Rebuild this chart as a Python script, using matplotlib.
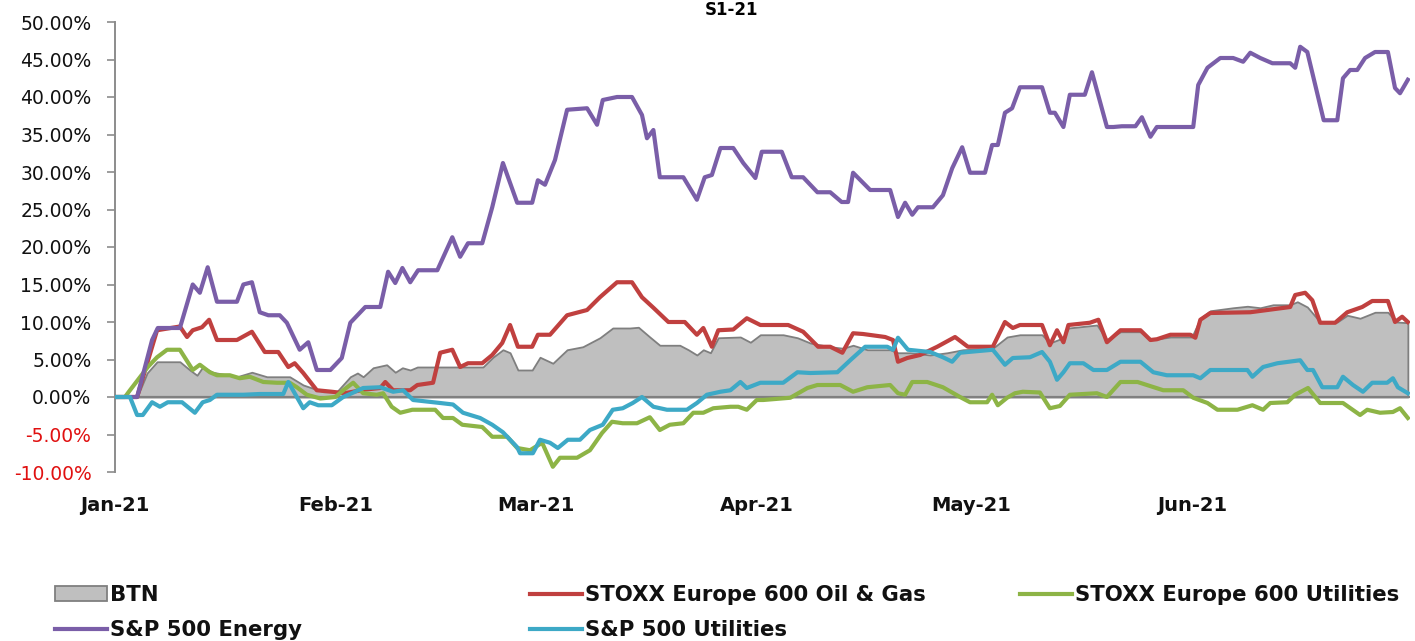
import matplotlib
matplotlib.use("Agg")
import matplotlib.pyplot as plt
from matplotlib.lines import Line2D
from matplotlib.patches import Patch
import numpy as np

# ---- data (days since 1 Jan 2021, cumulative return in %) ----
month_days = [0, 31, 59, 90, 120, 151]
month_labels = ["Jan-21", "Feb-21", "Mar-21", "Apr-21", "May-21", "Jun-21"]

btn_days = [0, 3.1, 4.5, 5.9, 9.1, 10.5, 11.5, 12.3, 13.7, 17.1, 19.2, 21.3, 24.5, 26.4, 29.2, 31.1,
            33.0, 34.0, 34.8, 36.2, 38.1, 39.3, 40.3, 41.4, 42.4, 47.4, 51.6, 53.0, 54.4, 55.4, 56.5,
            58.5, 59.6, 61.4, 63.4, 65.6, 68.0, 69.8, 72.2, 73.4, 75.0, 76.4, 79.2, 80.4, 81.6, 82.5,
            83.5, 84.6, 87.7, 89.1, 90.5, 93.7, 95.7, 97.5, 100.3, 102.1, 103.5, 105.5, 108.7, 109.8,
            111.5, 114.3, 116.7, 118.9, 123.1, 125.1, 126.9, 130.0, 131.1, 133.0, 133.7, 137.7, 139.1,
            141.0, 143.8, 145.2, 148.0, 151.0, 152.2, 153.6, 156.8, 158.8, 160.6, 162.4, 164.8, 165.8,
            167.2, 169.0, 171.4, 172.8, 174.6, 176.7, 178.5, 179.7, 181.3]
btn_vals = [0, 0, 3.2, 4.7, 4.7, 3.6, 2.9, 4.0, 3.3, 2.7, 3.3, 2.7, 2.7, 1.6, 0.7, 0.7,
            2.7, 3.2, 2.7, 3.9, 4.3, 3.3, 3.9, 3.6, 4.0, 4.0, 4.0, 5.3, 6.3, 5.9, 3.6,
            3.6, 5.3, 4.5, 6.3, 6.7, 7.9, 9.2, 9.2, 9.3, 8.0, 6.9, 6.9, 6.3, 5.6, 6.3,
            5.9, 7.9, 8.0, 7.3, 8.3, 8.3, 7.9, 7.2, 6.7, 6.5, 6.9, 6.3, 6.3, 5.9,
            5.9, 5.6, 5.9, 6.3, 6.5, 8.0, 8.3, 8.3, 7.2, 7.9, 9.2, 9.6, 7.6,
            8.7, 8.7, 7.6, 8.0, 8.0, 10.5, 11.5, 11.9, 12.1, 11.9, 12.3, 12.3, 12.7,
            12.0, 10.0, 10.0, 10.9, 10.5, 11.3, 11.3, 10.0, 9.9]

oil_days = [0, 3.1, 5.9, 9.1, 10.1, 10.9, 12.2, 13.2, 14.3, 17.1, 19.2, 21.0, 22.9, 24.3, 25.2, 26.4,
            28.3, 30.4, 32.2, 35.1, 37.2, 37.9, 39.0, 41.4, 42.4, 44.6, 45.6, 47.3, 48.4, 49.5, 51.5,
            52.9, 54.3, 55.4, 56.5, 58.5, 59.3, 61.0, 63.4, 66.2, 68.0, 70.4, 72.5, 73.9, 75.5, 77.6,
            79.9, 81.6, 82.5, 83.7, 84.6, 86.7, 88.6, 90.5, 94.4, 96.5, 98.6, 100.3, 102.0, 103.5,
            104.9, 108.0, 109.1, 109.8, 111.1, 112.9, 115.3, 117.8, 119.6, 123.1, 124.8, 125.9, 126.9,
            130.0, 131.1, 132.1, 133.0, 133.7, 136.7, 137.9, 139.1, 141.0, 143.8, 145.2, 146.1, 148.0,
            150.8, 151.5, 152.2, 153.6, 159.2, 161.6, 164.8, 165.5, 166.9, 167.9, 169.0, 171.1, 172.8,
            174.9, 176.3, 178.5, 179.5, 180.5, 181.3]
oil_vals = [0, 0, 8.9, 9.4, 8.0, 8.9, 9.3, 10.3, 7.6, 7.6, 8.7, 6.0, 6.0, 4.0, 4.5, 3.2,
            0.9, 0.7, 0.5, 1.0, 1.2, 2.0, 0.9, 0.9, 1.6, 1.9, 5.9, 6.3, 4.0, 4.5, 4.5,
            5.6, 7.2, 9.6, 6.7, 6.7, 8.3, 8.3, 10.9, 11.6, 13.3, 15.3, 15.3, 13.3, 11.9, 10.0,
            10.0, 8.3, 9.2, 6.7, 8.9, 9.0, 10.5, 9.6, 9.6, 8.7, 6.7, 6.7, 5.9, 8.5,
            8.4, 8.0, 7.6, 4.7, 5.2, 5.6, 6.7, 8.0, 6.7, 6.7, 10.0, 9.2, 9.6,
            9.6, 6.9, 8.9, 7.3, 9.6, 9.9, 10.3, 7.3, 8.9, 8.9, 7.6, 7.7, 8.3,
            8.3, 7.9, 10.3, 11.2, 11.3, 11.6, 12.0, 13.6, 13.9, 12.9, 9.9, 9.9, 11.3,
            12.0, 12.8, 12.8, 10.0, 10.7, 10.0]

eu_util_days = [0, 1.4, 2.1, 4.6, 5.9, 7.3, 9.1, 10.9, 11.9, 13.3, 14.3, 16.1, 17.5, 18.9, 20.8, 22.7,
                24.5, 25.5, 26.9, 28.8, 30.9, 32.0, 33.4, 34.8, 36.7, 37.6, 38.8, 40.0, 41.7, 44.9, 46.0,
                47.4, 48.7, 51.5, 52.9, 55.0, 56.4, 58.2, 59.9, 61.4, 62.4, 64.8, 66.6, 68.3, 69.7, 71.2,
                73.2, 75.0, 76.4, 77.8, 79.7, 81.1, 82.5, 83.9, 86.3, 87.4, 88.6, 90.0, 90.9, 94.7, 97.1,
                98.5, 101.7, 103.5, 105.5, 108.7, 109.8, 110.8, 111.8, 113.9, 116.1, 118.5, 119.9, 122.3,
                123.0, 123.8, 125.1, 126.2, 127.3, 129.7, 131.1, 132.5, 133.9, 137.7, 139.1, 141.0, 143.4,
                144.7, 147.0, 149.8, 151.2, 153.2, 154.6, 157.4, 159.5, 161.0, 162.0, 164.4, 165.5, 167.3,
                169.0, 172.2, 174.6, 175.6, 177.4, 179.2, 180.2, 181.3]
eu_util_vals = [0, 0, 0.9, 4.0, 5.3, 6.3, 6.3, 3.6, 4.3, 3.3, 2.9, 2.9, 2.5, 2.7, 2.0, 1.9,
                1.9, 1.3, 0.3, -0.2, 0.0, 0.9, 1.9, 0.5, 0.3, 0.5, -1.3, -2.1, -1.7, -1.7, -2.8,
                -2.8, -3.7, -4.0, -5.3, -5.3, -6.8, -7.1, -6.1, -9.3, -8.1, -8.1, -7.1, -4.8, -3.3, -3.5,
                -3.5, -2.7, -4.4, -3.7, -3.5, -2.1, -2.1, -1.5, -1.3, -1.3, -1.7, -0.4, -0.4, -0.1, 1.2,
                1.6, 1.6, 0.7, 1.3, 1.6, 0.5, 0.3, 2.0, 2.0, 1.3, 0.0, -0.7, -0.7,
                0.3, -1.1, -0.1, 0.5, 0.7, 0.6, -1.5, -1.2, 0.3, 0.5, 0.0, 2.0, 2.0,
                1.6, 0.9, 0.9, -0.1, -0.8, -1.7, -1.7, -1.1, -1.7, -0.8, -0.7, 0.3, 1.2,
                -0.8, -0.8, -2.4, -1.7, -2.1, -2.0, -1.5, -2.8]

energy_days = [0, 3.1, 5.2, 6.0, 9.1, 10.9, 11.9, 13.0, 14.3, 17.1, 18.0, 19.2, 20.3, 21.5, 23.1, 24.1,
               25.9, 27.1, 28.3, 30.2, 31.8, 33.0, 35.1, 37.2, 38.3, 39.3, 40.3, 41.4, 42.5, 45.2, 47.3,
               48.4, 49.5, 51.5, 52.9, 54.4, 56.4, 58.5, 59.3, 60.3, 61.7, 63.4, 66.2, 67.6, 68.4, 70.4,
               72.5, 73.9, 74.6, 75.5, 76.4, 79.7, 81.6, 82.7, 83.7, 84.9, 86.7, 88.1, 89.8, 90.7, 93.5,
               94.9, 96.5, 98.5, 100.3, 101.9, 102.8, 103.5, 105.9, 108.7, 109.8, 110.8, 111.8, 112.6,
               114.7, 116.1, 117.4, 118.8, 119.9, 122.0, 123.0, 123.8, 124.8, 125.8, 126.9, 130.0, 131.1,
               131.8, 133.0, 133.9, 136.0, 137.0, 139.1, 140.0, 141.2, 143.1, 144.0, 145.2, 146.1, 151.2,
               151.9, 153.2, 155.0, 156.8, 158.2, 159.2, 160.6, 162.3, 164.8, 165.5, 166.2, 167.2, 169.5,
               171.4, 172.2, 173.2, 174.2, 175.3, 176.7, 178.5, 179.5, 180.2, 181.3]
energy_vals = [0, 0, 7.6, 9.2, 9.2, 15.0, 13.9, 17.3, 12.7, 12.7, 15.0, 15.3, 11.3, 10.9, 10.9, 9.9,
               6.3, 7.3, 3.6, 3.6, 5.2, 9.9, 12.0, 12.0, 16.7, 15.2, 17.2, 15.3, 16.9, 16.9, 21.3,
               18.7, 20.5, 20.5, 25.3, 31.2, 25.9, 25.9, 28.9, 28.3, 31.6, 38.3, 38.5, 36.3, 39.6, 40.0,
               40.0, 37.6, 34.5, 35.6, 29.3, 29.3, 26.3, 29.3, 29.6, 33.2, 33.2, 31.2, 29.2, 32.7, 32.7,
               29.3, 29.3, 27.3, 27.3, 26.0, 26.0, 29.9, 27.6, 27.6, 24.0, 25.9, 24.3, 25.3,
               25.3, 26.9, 30.5, 33.3, 29.9, 29.9, 33.6, 33.6, 37.9, 38.5, 41.3, 41.3, 37.9,
               37.9, 36.0, 40.3, 40.3, 43.3, 36.0, 36.0, 36.1, 36.1, 37.3, 34.7, 36.0, 36.0,
               41.6, 43.9, 45.2, 45.2, 44.7, 45.9, 45.2, 44.5, 44.5, 43.9, 46.7, 46.0, 36.9,
               36.9, 42.5, 43.6, 43.6, 45.2, 46.0, 46.0, 41.2, 40.5, 42.3]

us_util_days = [0, 2.1, 3.1, 3.9, 5.2, 6.3, 7.4, 9.4, 11.2, 12.3, 13.3, 14.3, 18.0, 20.3, 23.6, 24.3,
                25.2, 26.4, 27.3, 28.5, 30.4, 32.0, 33.2, 34.8, 37.2, 39.0, 40.4, 41.8, 45.6, 47.4, 48.8,
                51.2, 52.9, 54.4, 56.4, 56.8, 58.6, 59.6, 61.0, 62.1, 63.5, 65.2, 66.6, 68.4, 69.8, 71.2,
                72.6, 73.9, 75.5, 77.4, 80.2, 81.6, 83.0, 84.9, 86.3, 87.7, 88.6, 90.5, 93.7, 95.7, 97.5,
                101.3, 103.1, 105.2, 108.3, 109.1, 109.8, 111.2, 114.3, 116.1, 117.4, 118.5, 119.6, 123.1,
                124.8, 125.9, 128.3, 130.0, 131.1, 132.1, 133.0, 133.9, 135.8, 137.2, 139.1, 141.0, 143.8,
                145.6, 147.5, 151.2, 152.2, 153.6, 158.8, 159.5, 161.0, 163.0, 166.2, 167.2, 168.0, 169.3,
                171.4, 172.2, 173.6, 175.0, 176.3, 178.4, 179.2, 179.9, 181.3]
us_util_vals = [0, 0, -2.4, -2.4, -0.7, -1.3, -0.7, -0.7, -2.1, -0.7, -0.4, 0.3, 0.3, 0.4, 0.4, 2.0,
                0.5, -1.5, -0.7, -1.1, -1.1, 0.0, 0.5, 1.2, 1.3, 0.7, 0.9, -0.4, -0.8, -1.0, -2.1,
                -2.8, -3.7, -4.7, -6.7, -7.5, -7.5, -5.7, -6.1, -6.8, -5.7, -5.7, -4.4, -3.7, -1.7, -1.5,
                -0.8, 0.0, -1.3, -1.7, -1.7, -0.8, 0.3, 0.7, 0.9, 2.0, 1.2, 1.9, 1.9, 3.3, 3.2,
                3.3, 4.9, 6.7, 6.7, 6.3, 7.9, 6.3, 6.0, 5.3, 4.7, 5.9, 6.0, 6.3,
                4.3, 5.2, 5.3, 6.0, 4.7, 2.3, 3.3, 4.5, 4.5, 3.6, 3.6, 4.7, 4.7,
                3.3, 2.9, 2.9, 2.5, 3.6, 3.6, 2.7, 4.0, 4.5, 4.9, 3.6, 3.6, 1.3,
                1.3, 2.7, 1.6, 0.7, 1.9, 1.9, 2.5, 1.3, 0.5]

labels = ["BTN", "STOXX Europe 600 Oil & Gas", "STOXX Europe 600 Utilities",
          "S&P 500 Energy", "S&P 500 Utilities"]
y_ticks = list(range(-10, 51, 5))

# ---- styles ----
c_fill, c_edge = "#BFBFBF", "#7F7F7F"
c_oil, c_eu, c_en, c_us = "#C0403F", "#8DB446", "#7A5EA8", "#3DA9C6"
lw = 3.0
font = "DejaVu Sans"

fig = plt.figure(figsize=(14.15, 6.41), dpi=100)
ax = fig.add_axes([115 / 1415, 1 - 472 / 641, 1295 / 1415, 450 / 641])

ax.fill_between(btn_days, 0, btn_vals, facecolor=c_fill, edgecolor=c_edge, linewidth=1.3, zorder=1)
ax.axhline(0, color="#808080", lw=1.6, zorder=1.5)
ax.plot(oil_days, oil_vals, color=c_oil, lw=lw, zorder=2, solid_joinstyle="round")
ax.plot(eu_util_days, eu_util_vals, color=c_eu, lw=lw, zorder=3, solid_joinstyle="round")
ax.plot(energy_days, energy_vals, color=c_en, lw=lw, zorder=4, solid_joinstyle="round")
ax.plot(us_util_days, us_util_vals, color=c_us, lw=lw, zorder=5, solid_joinstyle="round")

ax.set_xlim(0, 181.6)
ax.set_ylim(-10, 50)
for s in ["top", "right", "bottom"]:
    ax.spines[s].set_visible(False)
ax.spines["left"].set_color("#8C8C8C")
ax.spines["left"].set_linewidth(1.4)

ax.set_yticks(y_ticks)
ax.set_yticklabels([f"{v:.2f}%" for v in y_ticks], fontsize=13.5, family=font)
for t, v in zip(ax.get_yticklabels(), y_ticks):
    t.set_color("#E01010" if v < 0 else "#111111")
ax.tick_params(axis="y", length=6, width=1.2, color="#8C8C8C", pad=11)

ax.set_xticks(month_days)
ax.set_xticklabels(month_labels, fontsize=14, fontweight="bold", family=font)
ax.tick_params(axis="x", length=0, pad=17, labelcolor="#111111")

fig.text(731 / 1415, 1 - 1 / 641, "S1-21", ha="center", va="top",
         fontsize=12, fontweight="bold", family=font)

# ---- legend (three columns) ----
h_btn = Patch(facecolor=c_fill, edgecolor=c_edge, linewidth=1.3)
h_oil = Line2D([], [], color=c_oil, lw=lw)
h_eu = Line2D([], [], color=c_eu, lw=lw)
h_en = Line2D([], [], color=c_en, lw=lw)
h_us = Line2D([], [], color=c_us, lw=lw)
leg_kw = dict(loc="upper left", frameon=False, borderaxespad=0, borderpad=0,
              handlelength=2.45, handletextpad=0.12, labelspacing=0.72,
              prop={"family": font, "weight": "bold", "size": 15.3})
cols = [([h_btn, h_en], [labels[0], labels[3]], 55),
        ([h_oil, h_us], [labels[1], labels[4]], 530),
        ([h_eu], [labels[2]], 1020)]
for hs, ls, xpx in cols:
    lg = fig.legend(hs, ls, bbox_to_anchor=(xpx / 1415, 1 - 585 / 641), **leg_kw)
    for txt in lg.get_texts():
        txt.set_color("#111111")

fig.savefig("out.png", dpi=100)
